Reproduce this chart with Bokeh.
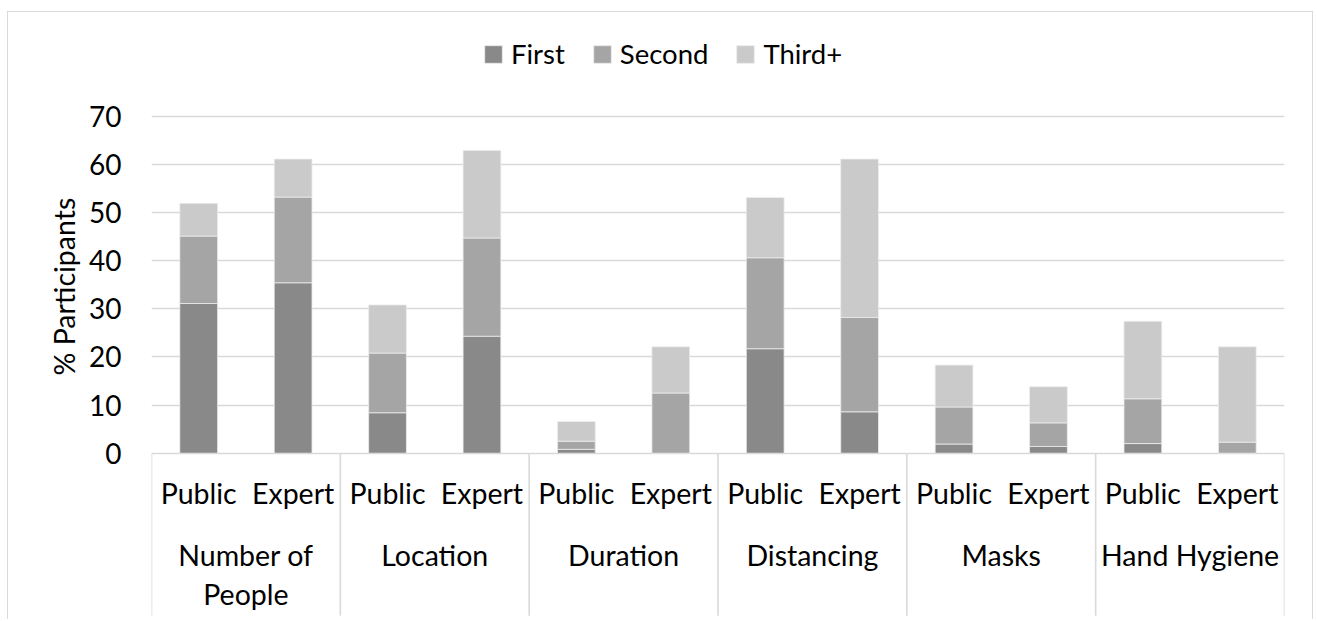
from bokeh.plotting import figure
from bokeh.models import ColumnDataSource, Range1d, FixedTicker, Legend, LegendItem, Title
from bokeh.core.properties import value
from bokeh.embed import file_html
from bokeh.resources import INLINE

# ---------------- data ----------------
groups = ["Number of People", "Location", "Duration", "Distancing", "Masks", "Hand Hygiene"]
group_display = ["Number of\nPeople", "Location", "Duration", "Distancing", "Masks", "Hand Hygiene"]
respondents = ["Public", "Expert"]
series = ["First", "Second", "Third+"]
first = [31.1, 35.4, 8.4, 24.3, 0.8, 0.0, 21.7, 8.6, 1.9, 1.4, 2.0, 0.0]
second = [14.0, 17.8, 12.4, 20.4, 1.7, 12.5, 18.9, 19.6, 7.7, 4.9, 9.3, 2.3]
third = [6.8, 7.9, 10.0, 18.2, 4.1, 9.6, 12.5, 32.9, 8.7, 7.5, 16.1, 19.8]
y_ticks = [0, 10, 20, 30, 40, 50, 60, 70]
y_title = "% Participants"

colors = ["#898989", "#a5a5a5", "#cacaca"]
FONT = "Lato"
GRID = "#d9d9d9"

n_sub = len(respondents)
xs = [g * n_sub + s + 0.5 for g in range(len(groups)) for s in range(n_sub)]
sub_labels = [respondents[s] for g in range(len(groups)) for s in range(n_sub)]

src = ColumnDataSource(dict(x=xs, first=first, second=second, third=third))

Y_BOT, Y_TOP = -34.75, 91.54
W, H = 1306, 608
p = figure(width=W, height=H, output_backend="svg", toolbar_location=None,
           x_range=Range1d(0, len(xs)), y_range=Range1d(Y_BOT, Y_TOP),
           min_border_left=143, min_border_right=30, min_border_top=0, min_border_bottom=0)
p.styles = {"margin-left": "7px", "margin-top": "11px",
            "border-left": "1px solid #d9d9d9", "border-top": "1px solid #d9d9d9",
            "border-right": "1px solid #d9d9d9"}
p.outline_line_color = None
p.background_fill_color = "white"
p.border_fill_color = "white"
p.xaxis.visible = False
p.xgrid.visible = False

yax = p.yaxis[0]
yax.ticker = FixedTicker(ticks=y_ticks)
yax.axis_line_color = None
yax.major_tick_line_color = None
yax.minor_tick_line_color = None
yax.major_label_standoff = 24
yax.major_label_text_font = FONT
yax.major_label_text_font_size = "28px"
yax.major_label_text_color = "#000000"

# y title placed along the 0-70 value band (not the whole frame)
ytitle = Title(text=y_title, align="left", offset=245, standoff=12,
               text_font=FONT, text_font_size="28.5px", text_font_style="normal",
               text_color="#000000")
p.add_layout(ytitle, "left")

p.ygrid.ticker = FixedTicker(ticks=y_ticks)
p.ygrid.grid_line_color = GRID
p.ygrid.grid_line_width = 1.6

# group separators below the baseline
seps = list(range(0, len(xs) + 1, n_sub))
p.segment(x0=seps, y0=[0] * len(seps), x1=seps, y1=[Y_BOT + 1] * len(seps),
          line_color=GRID, line_width=1.6)

rs = p.vbar_stack(["first", "second", "third"], x="x", width=0.4, source=src,
                  fill_color=colors, line_color="#ececec", line_width=0.8)

# sub category labels
p.text(x=xs, y=[-8.36] * len(xs), text=sub_labels, text_font=value(FONT),
       text_font_size="28.5px", text_align="center", text_baseline="alphabetic",
       text_color="#000000")

# group labels (possibly two lines)
gx, gy, gt = [], [], []
for g, lab in enumerate(group_display):
    for k, line in enumerate(lab.split("\n")):
        gx.append(g * n_sub + n_sub / 2)
        gy.append(-21.11 - 8.16 * k)
        gt.append(line)
p.text(x=gx, y=gy, text=gt, text_font=value(FONT), text_font_size="28.5px",
       text_align="center", text_baseline="alphabetic", text_color="#000000")

legend = Legend(items=[LegendItem(label=series[i], renderers=[rs[i]]) for i in range(3)],
                orientation="horizontal", location=(331, 550),
                glyph_width=22, glyph_height=22, label_height=22, label_standoff=7,
                spacing=26, padding=0, margin=0,
                label_text_font=FONT, label_text_font_size="27.5px", label_text_color="#000000",
                border_line_color=None, background_fill_alpha=0)
p.add_layout(legend, "center")

open("out.html", "w").write(file_html(p, INLINE))
